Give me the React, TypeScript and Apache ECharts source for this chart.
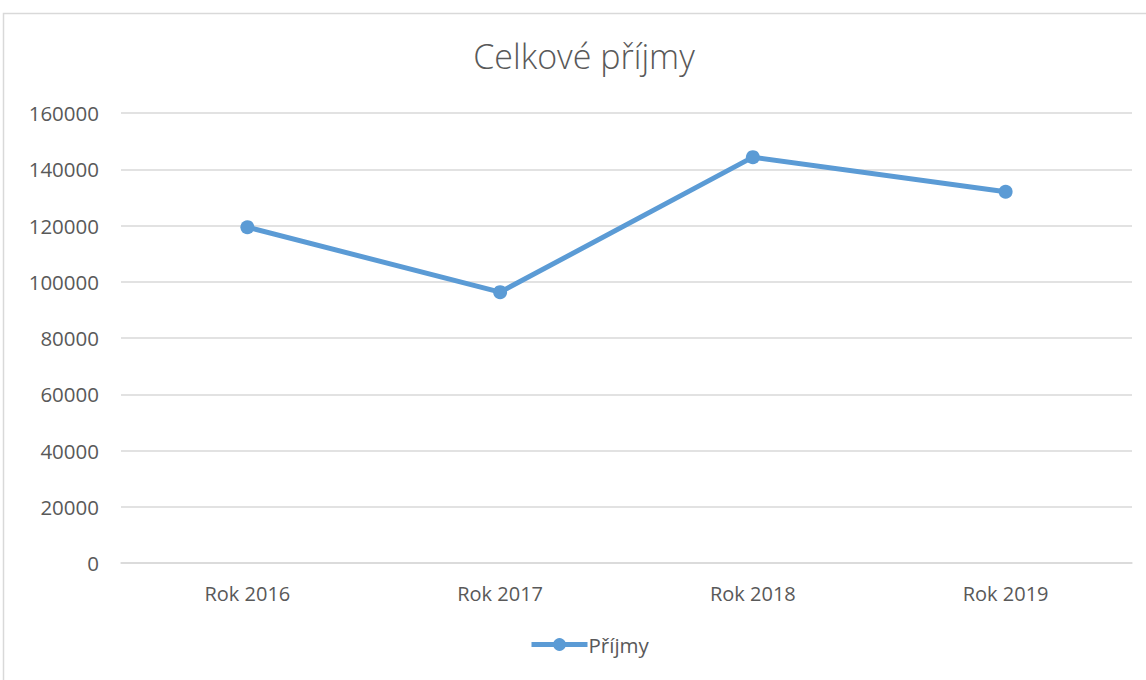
import React, { useEffect, useRef } from "react";
import * as echarts from "echarts";

const categories = ["Rok 2016", "Rok 2017", "Rok 2018", "Rok 2019"];
const incomeValues = [119400, 96300, 144300, 132000];
const seriesName = "Příjmy";
const chartTitle = "Celkové příjmy";

export default function App() {
  const ref = useRef<HTMLDivElement>(null);
  useEffect(() => {
    if (!ref.current) return;
    const chart = echarts.init(ref.current, null, { renderer: "svg" });
    const font = "'Open Sans', sans-serif";
    chart.setOption({
      animation: false,
      backgroundColor: "#ffffff",
      textStyle: { fontFamily: font },
      title: {
        text: chartTitle,
        left: 579,
        textAlign: "center",
        top: 34,
        textStyle: { fontFamily: font, fontSize: 34, fontWeight: 300, color: "#595959" },
      },
      graphic: [
        {
          type: "rect",
          shape: { x: 3.5, y: 13.5, width: 1200, height: 700 },
          style: { fill: "none", stroke: "#d9d9d9", lineWidth: 1.5 },
          silent: true,
          z: -10,
        },
      ],
      legend: {
        bottom: 20,
        left: 524,
        itemWidth: 56,
        itemHeight: 16,
        itemGap: 4,
        lineStyle: { width: 5 },
        textStyle: { fontFamily: font, fontSize: 20.5, color: "#595959", padding: [0, 0, 0, -4] },
        data: [seriesName],
      },
      grid: { left: 121, right: 14, top: 113, bottom: 117 },
      xAxis: {
        type: "category",
        data: categories,
        boundaryGap: true,
        axisLine: { show: true, lineStyle: { color: "#d9d9d9", width: 1.5 } },
        axisTick: { show: false },
        axisLabel: { fontFamily: font, fontSize: 20, color: "#595959", margin: 20 },
      },
      yAxis: {
        type: "value",
        min: 0,
        max: 160000,
        interval: 20000,
        axisLine: { show: false },
        axisTick: { show: false },
        splitLine: { lineStyle: { color: "#d9d9d9", width: 1.5 } },
        axisLabel: {
          fontFamily: font,
          fontSize: 20.5,
          color: "#595959",
          margin: 22,
          formatter: (v: number) => String(v),
        },
      },
      series: [
        {
          name: seriesName,
          type: "line",
          data: incomeValues,
          symbol: "circle",
          symbolSize: 14,
          lineStyle: { color: "#5b9bd5", width: 5 },
          itemStyle: { color: "#5b9bd5" },
        },
      ],
    });
    return () => chart.dispose();
  }, []);
  return (
    <div
      ref={ref}
      style={{ position: "fixed", left: 0, top: 0, width: 1146, height: 680 }}
    />
  );
}
